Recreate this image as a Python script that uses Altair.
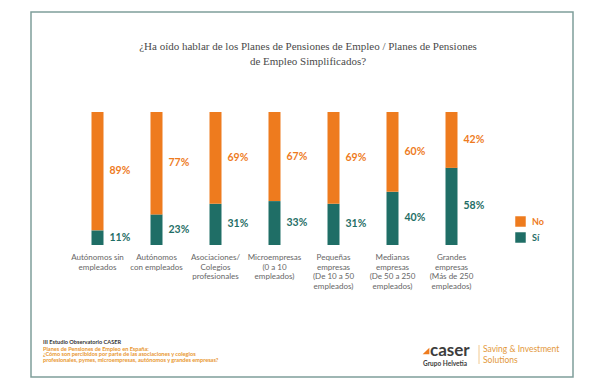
import altair as alt
import pandas as pd

categories = [
    "Autónomos sin\nempleados",
    "Autónomos\ncon empleados",
    "Asociaciones/\nColegios\nprofesionales",
    "Microempresas\n(0 a 10\nempleados)",
    "Pequeñas\nempresas\n(De 10 a 50\nempleados)",
    "Medianas\nempresas\n(De 50 a 250\nempleados)",
    "Grandes\nempresas\n(Más de 250\nempleados)",
]
no_vals = [89, 77, 69, 67, 69, 60, 42]
si_vals = [11, 23, 31, 33, 31, 40, 58]
responses = ["No", "Sí"]
colors = ["#ee7b1e", "#1f6e66"]

title_text = "¿Ha oído hablar de los Planes de Pensiones de Empleo / Planes de Pensiones\nde Empleo Simplificados?"
footer_bold = "III Estudio Observatorio CASER"
footer_orange = ("Planes de Pensiones de Empleo en España:\n"
                 "¿Cómo son percibidos por parte de las asociaciones y colegios\n"
                 "profesionales, pymes, microempresas, autónomos y grandes empresas?")

rows = []
for c, n, s in zip(categories, no_vals, si_vals):
    rows.append({"cat": c, "resp": "Sí", "value": s, "ord": 0})
    rows.append({"cat": c, "resp": "No", "value": n, "ord": 1})
df = pd.DataFrame(rows)

W, H = 413, 133

xenc = alt.X("cat:N", sort=categories, axis=None,
             scale=alt.Scale(paddingInner=0, paddingOuter=0))
cscale = alt.Scale(domain=responses, range=colors)

base = alt.Chart(df)

bars = base.mark_bar(size=12).encode(
    x=xenc,
    y=alt.Y("value:Q", stack="zero", axis=None, scale=alt.Scale(domain=[0, 100])),
    color=alt.Color("resp:N", scale=cscale, sort=responses, legend=alt.Legend(
        title=None, orient="none", legendX=447, legendY=104,
        symbolType="square", symbolSize=110, symbolStrokeWidth=0,
        symbolOpacity=1, rowPadding=5, labelOffset=6,
        labelFont="Lato", labelFontWeight="bold", labelFontSize=9,
        labelColor=alt.ExprRef("datum.label == 'No' ? '#ee7b1e' : '#1f6e66'"),
    )),
    order=alt.Order("ord:Q"),
)

labels = base.transform_stack(
    stack="value", groupby=["cat"], as_=["y0", "y1"],
    sort=[alt.SortField("ord", order="ascending")]
).transform_calculate(
    mid="(datum.y0 + datum.y1) / 2", lab="datum.value + '%'"
).mark_text(align="left", baseline="middle", dx=12, font="Lato",
            fontWeight="bold", fontSize=10.5).encode(
    x=xenc,
    y=alt.Y("mid:Q", axis=None, scale=alt.Scale(domain=[0, 100])),
    text="lab:N",
    color=alt.Color("resp:N", scale=cscale, legend=None),
)

catdf = pd.DataFrame({"cat": categories})
catlabels = alt.Chart(catdf).mark_text(
    baseline="top", align="center", lineBreak="\n", lineHeight=9.5,
    font="Lato", fontSize=8, color="#666666"
).encode(x=xenc, y=alt.value(142), text="cat:N")

one = pd.DataFrame({"a": [1]})

frame = alt.Chart(one).mark_rect(fill=None, stroke="#7f9e9b", strokeWidth=1.5).encode(
    x=alt.value(-37), x2=alt.value(505), y=alt.value(-100), y2=alt.value(265))

title = alt.Chart(pd.DataFrame({"t": [title_text]})).mark_text(
    font="Liberation Serif", fontSize=11, color="#4a4a4a", align="center",
    baseline="middle", lineBreak="\n", lineHeight=15
).encode(x=alt.value(240), y=alt.value(-65), text="t:N")

fb = alt.Chart(pd.DataFrame({"t": [footer_bold]})).mark_text(
    font="Lato", fontSize=5.6, fontWeight="bold", color="#333333",
    align="left", baseline="middle"
).encode(x=alt.value(-25), y=alt.value(230), text="t:N")

fo = alt.Chart(pd.DataFrame({"t": [footer_orange]})).mark_text(
    font="Lato", fontSize=5.6, fontWeight="bold", color="#e8962f",
    align="left", baseline="top", lineBreak="\n", lineHeight=5.6
).encode(x=alt.value(-25), y=alt.value(234.5), text="t:N")

logo_mark = alt.Chart(one).mark_point(
    shape="M 1 -1 L 1 1 L -1 1 Z", filled=True, fill="#ee7b1e", opacity=1,
    size=45, strokeWidth=0
).encode(x=alt.value(358), y=alt.value(239))

logo = alt.Chart(pd.DataFrame({"t": ["caser"]})).mark_text(
    font="Lato", fontSize=17, fontWeight="bold", color="#3d3d3d",
    align="left", baseline="alphabetic"
).encode(x=alt.value(362), y=alt.value(244), text="t:N")

grupo = alt.Chart(pd.DataFrame({"t": ["Grupo Helvetia"]})).mark_text(
    font="Lato", fontSize=6.5, fontWeight="bold", color="#3d3d3d",
    align="left", baseline="top"
).encode(x=alt.value(355), y=alt.value(249), text="t:N")

vline = alt.Chart(one).mark_rule(color="#f2c98f", strokeWidth=1).encode(
    x=alt.value(411), y=alt.value(233), y2=alt.value(252))

saving = alt.Chart(pd.DataFrame({"t": ["Saving & Investment\nSolutions"]})).mark_text(
    font="Lato", fontSize=8.5, color="#e3983a", align="left", baseline="top",
    lineBreak="\n", lineHeight=11
).encode(x=alt.value(415), y=alt.value(233), text="t:N")

chart = alt.layer(
    frame, title, bars, labels, catlabels, fb, fo, logo_mark, logo, grupo, vline, saving
).properties(
    width=W, height=H,
    autosize=alt.AutoSizeParams(type="none"),
    padding={"left": 60, "top": 104, "right": 116, "bottom": 137},
    background="white",
).configure_view(stroke=None)

chart.save("out.html", embed_options={"renderer": "svg", "actions": False})
